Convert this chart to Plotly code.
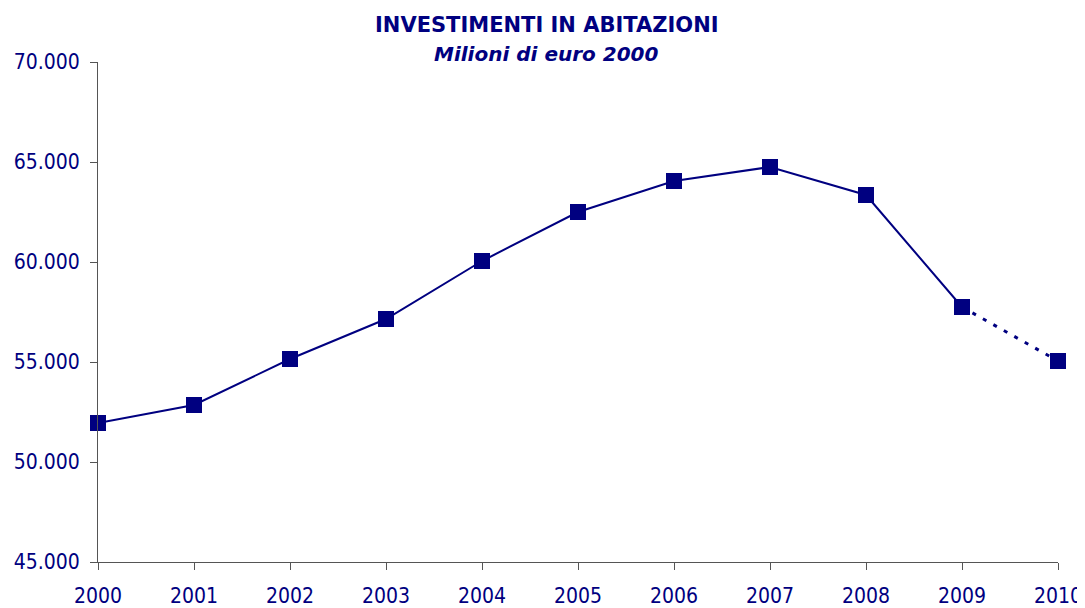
import plotly.graph_objects as go

years = [2000, 2001, 2002, 2003, 2004, 2005, 2006, 2007, 2008, 2009, 2010]
investimenti = [51950, 52850, 55150, 57150, 60050, 62500, 64050, 64750, 63350, 57750, 55050]

y_ticks = [45000, 50000, 55000, 60000, 65000, 70000]
y_labels = ["45.000", "50.000", "55.000", "60.000", "65.000", "70.000"]

navy = "#000080"
axis_col = "#555555"
tick_fam = "DejaVu Sans Condensed, DejaVu Sans"
title_fam = "DejaVu Sans"

fig = go.Figure()
# dati consuntivi
fig.add_trace(go.Scatter(
    x=years[:10], y=investimenti[:10],
    mode="lines+markers",
    line=dict(color=navy, width=2),
    marker=dict(symbol="square", size=16, color=navy),
    showlegend=False, cliponaxis=False,
))
# previsione
fig.add_trace(go.Scatter(
    x=years[9:], y=investimenti[9:],
    mode="lines+markers",
    line=dict(color=navy, width=3, dash="4px,8px"),
    marker=dict(symbol="square", size=16, color=navy),
    showlegend=False, cliponaxis=False,
))

fig.add_annotation(
    text="<b>INVESTIMENTI IN ABITAZIONI</b>",
    xref="paper", yref="paper", x=0.4677, y=1.074,
    xanchor="center", yanchor="middle", showarrow=False,
    font=dict(family=title_fam, size=21, color=navy),
)
fig.add_annotation(
    text="<b><i>Milioni di euro 2000</i></b>",
    xref="paper", yref="paper", x=0.4677, y=1.016,
    xanchor="center", yanchor="middle", showarrow=False,
    font=dict(family=title_fam, size=20, color=navy),
)

# la pagina ha un margine di 8px: figura un po' piu' piccola
fig.update_layout(
    width=1077, height=600,
    margin=dict(l=90, r=27, t=54, b=46),
    plot_bgcolor="white", paper_bgcolor="white",
    font=dict(family=tick_fam, color=navy),
)
fig.update_xaxes(
    range=[2000, 2010], tickvals=years, ticktext=[str(y) for y in years],
    showgrid=False, zeroline=False, automargin=False,
    showline=True, linecolor=axis_col, linewidth=1,
    ticks="outside", ticklen=7, tickcolor=axis_col,
    tickfont=dict(size=21, color=navy), ticklabelstandoff=8,
)
fig.update_yaxes(
    range=[45000, 70000], tickvals=y_ticks, ticktext=y_labels,
    showgrid=False, zeroline=False, automargin=False,
    showline=True, linecolor=axis_col, linewidth=1,
    ticks="outside", ticklen=7, tickcolor=axis_col,
    tickfont=dict(size=21, color=navy), ticklabelstandoff=6,
)

fig.write_html("out.html")
